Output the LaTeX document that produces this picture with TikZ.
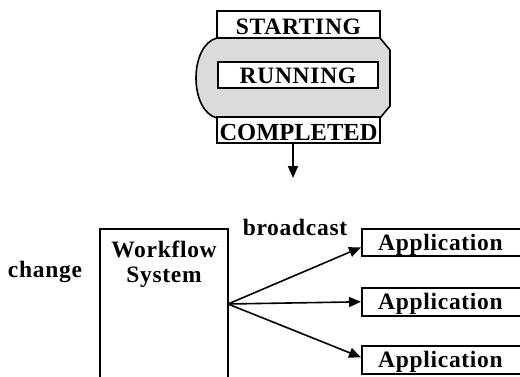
\documentclass[tikz,border=0pt]{standalone}
\usepackage{fontspec}
\setmainfont{Liberation Serif}
\newfontfamily\spc{Liberation Serif}[LetterSpace=3]
\usetikzlibrary{arrows.meta}
\begin{document}
\begin{tikzpicture}[x=1pt,y=-1pt,
  lw/.style={line width=1.6pt},
  txt/.style={font=\spc\bfseries\fontsize{23.5}{26}\selectfont, inner sep=0pt},
  statebox/.style={draw, lw, fill=white, minimum width=163pt, minimum height=27pt,
    inner sep=0pt, text depth=0pt, font=\spc\bfseries\fontsize{23.5}{26}\selectfont},
  plainbox/.style={draw, lw, inner sep=0pt},
  arr/.style={lw, -{Triangle[length=12pt,width=10pt]}},
  shade/.style={fill=gray!28},
]
\useasboundingbox (0,0) rectangle (520,376);
\clip (0,0) rectangle (520,376);

% shaded state region
\fill[shade] (217,38) .. controls (189,45) and (189,111) .. (217,118)
  -- (380,118) -- (390,106) -- (390,50) -- (380,38) -- cycle;
\draw[lw] (217,38) .. controls (189,45) and (189,111) .. (217,118);
\draw[lw, line join=round] (380,38) -- (390,50) -- (390,106) -- (380,118);

% state boxes
\node[statebox, text height=19pt] (start) at (298.5,24.5) {STARTING};
\node[statebox, minimum width=160pt, minimum height=26pt, text height=16pt] (run) at (298,75) {RUNNING};
\node[statebox, minimum height=26pt, text height=21pt,
  font=\bfseries\fontsize{24.5}{26}\selectfont] (done) at (298.5,130) {COMPLETED};
\coordinate (down) at (293,178);
\draw[arr] ([xshift=-5.5pt]done.south) -- (down);

% workflow system
\node[plainbox, anchor=north, minimum width=128pt, minimum height=170pt] (wf) at (164,228) {};
\node[txt, anchor=base] (wft1) at (164,257) {Workflow};
\node[txt, anchor=base] (wft2) at (164,282) {System};
\node[txt, anchor=base] (chg) at (45,277) {change};
\node[txt, anchor=base] (bc) at (295,235) {broadcast};

% applications
\node[plainbox, anchor=north west, minimum width=200pt, minimum height=27pt] (app1) at (361,228) {};
\node[plainbox, anchor=north west, minimum width=200pt, minimum height=28pt] (app2) at (361,287) {};
\node[plainbox, anchor=north west, minimum width=200pt, minimum height=28pt] (app3) at (361,345) {};
\node[txt, anchor=base west] (app1t) at (378,250) {Application};
\node[txt, anchor=base west] (app2t) at (378,309) {Application};
\node[txt, anchor=base west] (app3t) at (378,367) {Application};

% broadcast arrows
\coordinate (hub) at (228,304);
\draw[arr] (hub) -- ([yshift=-5pt]app1.west);
\draw[arr] (hub) -- (app2.west);
\draw[arr] (hub) -- ([yshift=2.5pt]app3.west);
\end{tikzpicture}
\end{document}
